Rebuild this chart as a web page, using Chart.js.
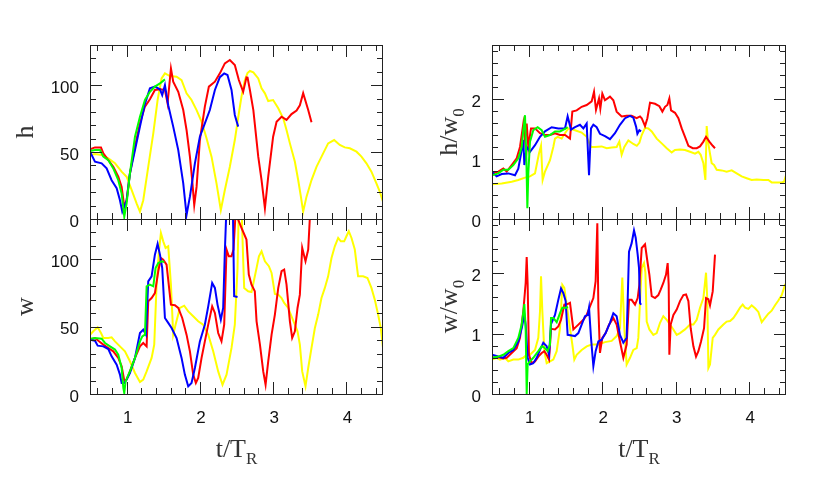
<!DOCTYPE html>
<html>
<head>
<meta charset="utf-8">
<script src="https://cdn.jsdelivr.net/npm/chart.js@4.4.0/dist/chart.umd.min.js"></script>
<style>
    html, body { margin: 0; padding: 0; background: #fff; }
    #figura { position: relative; width: 830px; height: 489px; }
    #figura canvas { position: absolute; left: 0; top: 0; }
</style>
</head>
<body>
<div id="figura">
    <canvas id="panel-h" width="830" height="489"></canvas>
    <canvas id="panel-w" width="830" height="489"></canvas>
    <canvas id="panel-hw" width="830" height="489"></canvas>
    <canvas id="panel-ww" width="830" height="489"></canvas>
</div>
<script>
// --- Datos: pares [t/T_R, valor] ---

// Ejes
const rangoT = [0.5, 4.5];
const etiquetasT = [1, 2, 3, 4];
const etiquetasAbs = [0, 50, 100];
const etiquetasRel = [0, 1, 2];

// Panel h
const hAmarillo = [[0.5,47.8],[0.568,48.6],[0.659,47.8],[0.75,45.3],[0.841,41.6],[0.932,35.4],[1.0,31.6],[1.068,21.7],[1.136,11.7],[1.182,5.5],[1.227,14],[1.295,39],[1.364,64],[1.423,88.9],[1.477,105],[1.523,108.8],[1.591,106.8],[1.682,106.3],[1.75,103.8],[1.818,93.9],[1.886,88.9],[1.955,81.4],[2.023,72.7],[2.091,60.3],[2.159,46.6],[2.227,26.6],[2.286,6.7],[2.341,21.7],[2.409,39],[2.477,59],[2.532,79],[2.568,91.4],[2.614,103.8],[2.65,109],[2.683,110.6],[2.73,109.6],[2.797,105],[2.842,97.6],[2.888,93.9],[2.933,88.1],[3.0,88.9],[3.07,82.7],[3.138,75.2],[3.183,66.5],[3.229,56.5],[3.297,42.8],[3.342,29.1],[3.379,16.7],[3.41,5.5],[3.456,16.7],[3.524,29.1],[3.592,39],[3.683,49],[3.751,56.5],[3.833,59],[3.91,55.3],[3.979,53.5],[4.047,52.8],[4.138,50.3],[4.206,46.6],[4.274,41.6],[4.342,35.4],[4.41,26.6],[4.456,20.4],[4.5,13]];
const hRojo = [[0.5,52],[0.568,53.5],[0.65,53.5],[0.682,49],[0.75,44],[0.818,39],[0.886,31.6],[0.932,24],[0.968,9.2],[1.0,14],[1.045,34],[1.114,54],[1.182,71.5],[1.25,84],[1.318,89.4],[1.386,96.4],[1.455,97],[1.523,96.4],[1.559,86.4],[1.605,112.5],[1.636,102.6],[1.705,95],[1.773,81.4],[1.818,66.5],[1.864,46.6],[1.895,29],[1.923,10.5],[1.955,24],[2.0,59],[2.068,84],[2.123,98.9],[2.205,102.6],[2.273,108.8],[2.341,116.3],[2.409,118.8],[2.477,115],[2.532,103.8],[2.591,95],[2.636,105.8],[2.651,105.6],[2.683,96.4],[2.73,81.4],[2.797,46.6],[2.842,29],[2.888,8],[2.933,31.6],[3.0,61.5],[3.047,72.7],[3.115,76.4],[3.183,74],[3.251,78.4],[3.32,81],[3.365,85],[3.41,94],[3.479,81.4],[3.524,72.2]];
const hAzul = [[0.5,50.3],[0.568,42.8],[0.659,41.6],[0.727,37.8],[0.795,29],[0.864,23],[0.909,14],[0.941,5.5],[1.0,14],[1.045,34],[1.114,51.5],[1.182,69],[1.25,86],[1.318,97.6],[1.386,98.9],[1.455,96.9],[1.486,92.6],[1.523,100],[1.568,85],[1.636,69],[1.705,51.5],[1.773,26.6],[1.818,3],[1.864,16.7],[1.932,41.6],[2.0,61.5],[2.068,71.5],[2.136,81.4],[2.205,96.4],[2.273,106],[2.332,108.8],[2.377,107.6],[2.432,96.4],[2.477,77.7],[2.523,69]];
const hVerde = [[0.5,50.8],[0.568,51.5],[0.636,51.5],[0.682,46.6],[0.75,44],[0.818,37.8],[0.886,29],[0.932,19],[0.968,1.7],[1.0,11.7],[1.045,34],[1.114,61.5],[1.182,76.4],[1.25,88.9],[1.318,95],[1.386,98.9],[1.455,101.3],[1.523,104.3]];

// Panel w
const wAmarillo = [[0.5,44],[0.545,46.6],[0.605,49.5],[0.65,45.3],[0.682,41.6],[0.75,41.6],[0.795,42.1],[0.841,39.1],[0.909,35.4],[0.977,31.7],[1.045,24.3],[1.114,15.6],[1.182,8.9],[1.227,10.7],[1.273,16.8],[1.341,26.8],[1.377,36.7],[1.409,81.2],[1.441,106],[1.468,119.6],[1.5,113.4],[1.532,108.5],[1.568,109.7],[1.605,81.2],[1.636,44.1],[1.668,51.5],[1.727,63.9],[1.786,65.6],[1.841,61.4],[1.909,57.7],[1.977,54],[2.045,51.5],[2.114,44.1],[2.182,31.7],[2.25,16.8],[2.309,6.9],[2.364,14.4],[2.432,34.2],[2.477,51.5],[2.514,93.6],[2.532,140],[2.568,140],[2.591,100],[2.605,78.8],[2.659,76.3],[2.705,75.8],[2.774,93.6],[2.806,102.3],[2.842,106],[2.888,98.6],[2.942,94.9],[2.979,89.9],[3.024,74.3],[3.07,73.8],[3.115,71.3],[3.151,67.6],[3.206,63.9],[3.251,57.7],[3.297,51.5],[3.333,46.6],[3.365,36.7],[3.397,16.8],[3.442,5.7],[3.479,19.3],[3.524,34.2],[3.57,49],[3.615,59],[3.66,71.3],[3.706,78.8],[3.751,87.4],[3.797,101],[3.842,109.7],[3.888,115.9],[3.924,113.4],[3.97,113.4],[4.001,117.2],[4.033,120.9],[4.07,115.9],[4.115,107.3],[4.16,87.4],[4.229,87.4],[4.288,86.2],[4.342,78.8],[4.388,70.1],[4.433,59],[4.47,49],[4.5,34.2]];
const wRojo = [[0.5,40.4],[0.568,41.6],[0.614,39.5],[0.682,36.7],[0.75,34.2],[0.818,31.7],[0.886,26.8],[0.932,20.6],[0.968,9.9],[1.0,10.7],[1.045,16.8],[1.114,26.8],[1.182,35.4],[1.227,37.9],[1.273,35.4],[1.295,68.9],[1.341,71.3],[1.386,75],[1.432,91.2],[1.468,101],[1.5,99.8],[1.545,96.1],[1.605,66.4],[1.659,65.9],[1.705,63.9],[1.759,56.5],[1.818,44.1],[1.864,31.7],[1.909,14.4],[1.945,8.2],[1.977,11.9],[2.023,26.8],[2.068,39.1],[2.114,51.5],[2.168,65.1],[2.205,60.2],[2.25,45.3],[2.295,39.1],[2.332,51.5],[2.364,107.3],[2.395,102.3],[2.432,102.3],[2.459,107.3],[2.486,133],[2.523,129.5],[2.568,123.4],[2.636,114.7],[2.668,88.7],[2.705,81.2],[2.75,76.3],[2.774,54],[2.82,36.7],[2.865,16.8],[2.897,6.9],[2.933,24.3],[2.979,44.1],[3.024,59],[3.07,78.8],[3.115,91.2],[3.151,92.4],[3.183,81.2],[3.229,54],[3.26,41.6],[3.297,46.6],[3.333,63.9],[3.365,73.8],[3.397,108.5],[3.442,98.6],[3.479,107.3],[3.51,140]];
const wAzul = [[0.5,40.4],[0.568,39.6],[0.605,35.9],[0.682,35.4],[0.75,33.4],[0.795,28],[0.864,21.8],[0.909,14.4],[0.932,8.2],[0.968,8.2],[1.0,10.7],[1.045,15.6],[1.114,26.8],[1.182,45.3],[1.227,47.8],[1.264,44],[1.295,83.7],[1.341,87.4],[1.386,103.5],[1.423,111.5],[1.455,103.5],[1.486,93.6],[1.523,56.5],[1.568,52.8],[1.614,49],[1.682,41.6],[1.75,26.8],[1.795,14.4],[1.841,5.7],[1.886,8.2],[1.932,19.3],[2.0,39.1],[2.068,51.5],[2.114,65.1],[2.168,82.5],[2.205,78.8],[2.241,66.4],[2.286,55.2],[2.318,63.9],[2.341,106],[2.364,140],[2.45,140],[2.468,72.6],[2.514,72.1]];
const wVerde = [[0.5,41.1],[0.568,41.6],[0.659,41.1],[0.705,37.9],[0.773,35.4],[0.841,33],[0.886,29.2],[0.932,19.3],[0.955,4.5],[0.968,0.7],[0.986,9.4],[1.045,16.8],[1.114,26.8],[1.182,39.1],[1.214,42.8],[1.25,44.1],[1.273,80],[1.318,81.2],[1.364,80],[1.395,93.6],[1.432,97.3],[1.477,98.6],[1.514,98.1]];

// Panel h/w0
const hwAmarillo = [[0.5,0.58],[0.632,0.59],[0.768,0.62],[0.858,0.65],[0.949,0.69],[1.017,0.71],[1.085,0.76],[1.139,1.09],[1.167,1.22],[1.189,0.65],[1.221,0.79],[1.289,0.98],[1.334,1.2],[1.357,1.34],[1.393,1.37],[1.448,1.34],[1.493,1.43],[1.539,1.51],[1.629,1.48],[1.72,1.44],[1.788,1.37],[1.847,1.2],[1.901,1.2],[1.992,1.21],[2.06,1.18],[2.128,1.19],[2.196,1.2],[2.232,1.29],[2.264,1.07],[2.3,1.2],[2.355,1.31],[2.423,1.25],[2.47,1.22],[2.505,1.27],[2.537,1.4],[2.582,1.52],[2.627,1.51],[2.673,1.46],[2.741,1.34],[2.809,1.26],[2.877,1.18],[2.945,1.11],[2.99,1.15],[3.058,1.16],[3.126,1.15],[3.194,1.12],[3.262,1.09],[3.308,1.12],[3.339,1.07],[3.376,0.93],[3.403,0.65],[3.421,1.55],[3.439,1.29],[3.466,1.09],[3.489,0.93],[3.521,0.9],[3.557,0.82],[3.625,0.81],[3.693,0.79],[3.761,0.81],[3.829,0.76],[3.897,0.71],[3.965,0.68],[4.033,0.65],[4.101,0.66],[4.192,0.65],[4.26,0.65],[4.305,0.61],[4.374,0.61],[4.442,0.61],[4.473,0.62],[4.5,0.73]];
const hwRojo = [[0.5,0.76],[0.586,0.79],[0.654,0.84],[0.7,0.79],[0.768,0.9],[0.836,1.01],[0.881,1.2],[0.926,1.59],[0.949,1.32],[0.972,1.59],[0.994,1.2],[1.031,1.51],[1.085,1.51],[1.153,1.43],[1.221,1.4],[1.289,1.4],[1.357,1.43],[1.425,1.4],[1.493,1.4],[1.561,1.34],[1.593,1.79],[1.652,1.81],[1.72,1.87],[1.788,1.9],[1.856,1.96],[1.888,2.12],[1.915,1.82],[1.956,2.01],[1.974,1.84],[2.001,2.09],[2.037,1.98],[2.105,2.04],[2.151,1.98],[2.196,1.79],[2.264,1.71],[2.332,1.72],[2.4,1.72],[2.468,1.68],[2.514,1.71],[2.537,1.68],[2.582,1.55],[2.614,1.68],[2.65,1.94],[2.718,1.92],[2.777,1.88],[2.818,1.79],[2.854,1.87],[2.886,1.9],[2.913,2.01],[2.936,1.81],[2.99,1.77],[3.036,1.68],[3.081,1.51],[3.126,1.37],[3.172,1.22],[3.231,1.18],[3.285,1.18],[3.33,1.21],[3.376,1.29],[3.412,1.37],[3.457,1.29],[3.503,1.22],[3.534,1.18]];
const hwAzul = [[0.5,0.79],[0.563,0.71],[0.632,0.75],[0.722,0.76],[0.813,0.73],[0.858,0.84],[0.904,1.15],[0.926,1.32],[0.94,0.9],[0.972,1.2],[1.017,1.12],[1.085,1.23],[1.153,1.37],[1.221,1.46],[1.312,1.53],[1.402,1.51],[1.493,1.51],[1.529,1.71],[1.575,1.49],[1.629,1.53],[1.697,1.57],[1.743,1.51],[1.788,1.59],[1.82,0.73],[1.847,1.51],[1.879,1.57],[1.924,1.53],[1.969,1.42],[2.037,1.38],[2.105,1.33],[2.173,1.43],[2.241,1.57],[2.31,1.68],[2.378,1.72],[2.423,1.69],[2.46,1.54],[2.478,1.42],[2.505,1.48],[2.528,1.46]];
const hwVerde = [[0.5,0.73],[0.586,0.76],[0.654,0.82],[0.722,0.82],[0.79,0.9],[0.858,1.01],[0.904,1.2],[0.926,1.48],[0.949,1.73],[0.967,1.04],[0.981,0.18],[0.994,0.76],[1.017,1.29],[1.062,1.48],[1.121,1.53],[1.176,1.48],[1.221,1.37],[1.289,1.4],[1.357,1.46],[1.425,1.46],[1.493,1.5],[1.529,1.53]];

// Panel w/w0
const wwAmarillo = [[0.5,0.57],[0.563,0.6],[0.609,0.57],[0.677,0.6],[0.722,0.54],[0.79,0.57],[0.858,0.57],[0.926,0.6],[0.972,0.65],[1.017,0.65],[1.085,0.73],[1.13,0.93],[1.153,1.37],[1.167,1.95],[1.185,1.37],[1.212,0.71],[1.244,0.51],[1.289,0.54],[1.334,0.57],[1.38,0.71],[1.425,1.09],[1.457,1.81],[1.484,1.76],[1.516,1.48],[1.561,1.09],[1.593,0.82],[1.62,0.57],[1.652,0.65],[1.72,0.73],[1.788,0.79],[1.856,0.82],[1.947,0.82],[2.037,0.86],[2.128,0.88],[2.196,0.96],[2.241,1.09],[2.273,1.93],[2.3,1.09],[2.332,0.49],[2.378,0.6],[2.423,0.73],[2.469,0.76],[2.491,0.93],[2.514,1.54],[2.537,2.09],[2.568,2.17],[2.587,2.01],[2.605,1.2],[2.641,1.07],[2.695,0.98],[2.741,1.01],[2.786,1.18],[2.831,1.29],[2.877,1.23],[2.922,1.15],[2.968,1.07],[3.013,0.98],[3.058,1.01],[3.126,1.07],[3.194,1.15],[3.24,1.15],[3.285,1.23],[3.33,1.43],[3.376,1.59],[3.412,2.01],[3.43,1.54],[3.444,0.43],[3.466,0.49],[3.503,0.93],[3.534,0.98],[3.58,1.07],[3.648,1.15],[3.693,1.2],[3.739,1.21],[3.784,1.26],[3.829,1.34],[3.875,1.43],[3.911,1.48],[3.943,1.43],[3.988,1.41],[4.033,1.47],[4.079,1.42],[4.124,1.36],[4.17,1.19],[4.215,1.26],[4.26,1.33],[4.305,1.38],[4.351,1.47],[4.396,1.55],[4.442,1.64],[4.487,1.81],[4.51,1.84]];
const wwRojo = [[0.5,0.6],[0.586,0.61],[0.654,0.59],[0.7,0.6],[0.768,0.68],[0.836,0.76],[0.881,0.93],[0.926,1.37],[0.958,1.84],[0.972,2.27],[0.985,1.82],[1.003,0.65],[1.04,0.51],[1.085,0.54],[1.13,0.62],[1.176,0.68],[1.212,0.71],[1.244,0.65],[1.276,0.57],[1.303,1.08],[1.357,1.07],[1.402,1.12],[1.439,1.23],[1.484,1.48],[1.529,1.49],[1.561,1.51],[1.607,1.07],[1.675,1.15],[1.743,1.23],[1.788,1.31],[1.833,1.45],[1.879,1.59],[1.91,1.87],[1.933,2.83],[1.947,1.43],[1.969,0.68],[2.001,0.93],[2.046,1.01],[2.092,1.15],[2.151,1.26],[2.196,1.15],[2.241,0.87],[2.287,0.6],[2.332,0.82],[2.364,1.56],[2.4,1.56],[2.446,1.48],[2.482,1.59],[2.505,1.81],[2.537,2.42],[2.582,2.48],[2.614,2.2],[2.641,1.98],[2.673,1.62],[2.718,1.59],[2.763,1.64],[2.795,1.73],[2.831,1.84],[2.868,1.98],[2.89,2.17],[2.904,1.81],[2.913,0.65],[2.931,1.15],[2.968,1.31],[3.013,1.4],[3.058,1.54],[3.104,1.64],[3.14,1.65],[3.172,1.54],[3.203,1.09],[3.24,0.79],[3.276,0.62],[3.308,0.71],[3.344,0.87],[3.385,1.09],[3.412,1.59],[3.444,1.57],[3.466,1.47],[3.503,1.7],[3.534,2.31]];
const wwAzul = [[0.5,0.65],[0.586,0.62],[0.654,0.6],[0.722,0.68],[0.79,0.73],[0.858,0.87],[0.904,1.09],[0.94,1.31],[0.958,1.15],[0.985,0.6],[1.017,0.49],[1.062,0.51],[1.108,0.6],[1.153,0.73],[1.198,0.85],[1.244,0.79],[1.276,0.65],[1.303,1.16],[1.357,1.31],[1.402,1.56],[1.439,1.75],[1.471,1.67],[1.502,1.54],[1.529,0.98],[1.584,0.97],[1.629,0.96],[1.675,1.01],[1.72,1.15],[1.765,1.29],[1.802,1.31],[1.82,1.43],[1.847,0.93],[1.879,0.46],[1.91,0.71],[1.947,0.87],[1.992,0.9],[2.046,1.01],[2.105,1.18],[2.151,1.34],[2.196,1.29],[2.241,0.98],[2.287,0.85],[2.332,0.93],[2.364,2.36],[2.4,2.5],[2.432,2.71],[2.455,2.59],[2.482,2.31],[2.5,2.09],[2.514,1.51],[2.528,1.48]];
const wwVerde = [[0.5,0.6],[0.586,0.62],[0.654,0.65],[0.722,0.71],[0.79,0.76],[0.858,0.93],[0.904,1.15],[0.94,1.49],[0.958,1.09],[0.972,0],[0.985,0.49],[1.017,0.54],[1.062,0.6],[1.13,0.71],[1.176,0.79],[1.212,0.77],[1.257,0.71],[1.289,0.82],[1.303,1.26],[1.334,1.26],[1.38,1.19],[1.425,1.34],[1.457,1.43],[1.516,1.43],[1.53,1.45]];

// Plugin: marco con marcas hacia dentro en los 4 lados, etiquetas y titulos
const marco = {
    id: 'marco',
    afterDraw(chart, args, o) {
        const { ctx, chartArea: a } = chart;
        const sx = chart.scales.x, sy = chart.scales.y;
        const pasos = (min, max, paso) => {
            const out = [];
            for (let k = Math.ceil(min / paso - 1e-9); k * paso <= max + 1e-9; k++) out.push(k * paso);
            return out;
        };
        const esMayor = (v, m) => Math.abs(v / m - Math.round(v / m)) < 1e-6;

        ctx.save();
        ctx.strokeStyle = '#222';
        ctx.lineWidth = 1;
        ctx.strokeRect(a.left + 0.5, a.top + 0.5, a.right - a.left - 1, a.bottom - a.top);

        ctx.beginPath();
        pasos(sx.min, sx.max, o.xMenor).forEach(v => {
            if (v <= sx.min + 1e-6 || v >= sx.max - 1e-6) return;
            const px = Math.round(sx.getPixelForValue(v)) + 0.5;
            const largo = esMayor(v, o.xMayor) ? 12 : 6;
            ctx.moveTo(px, a.bottom); ctx.lineTo(px, a.bottom - largo);
            ctx.moveTo(px, a.top); ctx.lineTo(px, a.top + largo);
        });
        pasos(sy.min, sy.max, o.yMenor).forEach(v => {
            if (v <= sy.min + 1e-6 || v >= sy.max - 1e-6) return;
            const py = Math.round(sy.getPixelForValue(v)) + 0.5;
            const largo = esMayor(v, o.yMayor) ? 12 : 6;
            ctx.moveTo(a.left, py); ctx.lineTo(a.left + largo, py);
            ctx.moveTo(a.right, py); ctx.lineTo(a.right - largo, py);
        });
        ctx.stroke();

        // Etiquetas numericas
        ctx.fillStyle = '#111';
        ctx.font = '17px "Liberation Sans", Arial, sans-serif';
        ctx.textAlign = 'right';
        ctx.textBaseline = 'middle';
        o.yEtiquetas.forEach(v => {
            ctx.fillText(String(v), a.left - 11, sy.getPixelForValue(v) + 3);
        });
        if (o.xEtiquetas) {
            ctx.textAlign = 'center';
            o.xEtiquetas.forEach(v => {
                ctx.fillText(String(v), sx.getPixelForValue(v) + 1, a.bottom + 24);
            });
        }

        // Titulos (con subindice)
        ctx.fillStyle = '#333';
        ctx.textBaseline = 'alphabetic';
        const escribir = (partes, cx, base, girar) => {
            ctx.save();
            ctx.translate(cx, base);
            if (girar) ctx.rotate(-Math.PI / 2);
            const fuente = sub => (sub ? '17px' : '26px') + ' "Liberation Serif", "Times New Roman", serif';
            let total = 0;
            partes.forEach(([t, sub]) => { ctx.font = fuente(sub); total += ctx.measureText(t).width; });
            let x = -total / 2;
            ctx.textAlign = 'left';
            partes.forEach(([t, sub]) => {
                ctx.font = fuente(sub);
                ctx.fillText(t, x, sub ? 7 : 0);
                x += ctx.measureText(t).width;
            });
            ctx.restore();
        };
        escribir(o.tituloY, o.tituloYBase, (a.top + a.bottom) / 2, true);
        if (o.tituloX) escribir(o.tituloX, (a.left + a.right) / 2, 457, false);
        ctx.restore();
    }
};

function serie(puntos, color) {
    return {
        data: puntos.map(([x, y]) => ({ x, y })),
        borderColor: color,
        borderWidth: 2,
        pointRadius: 0,
        fill: false,
        tension: 0
    };
}

function crearPanel(id, lineas, yMax, padding, opcionesMarco) {
    new Chart(document.getElementById(id), {
        type: 'line',
        data: {
            // el primer dataset se dibuja encima
            datasets: [
                serie(lineas[3], '#00ff00'),
                serie(lineas[2], '#0000ff'),
                serie(lineas[1], '#ff0000'),
                serie(lineas[0], '#ffff00')
            ]
        },
        options: {
            responsive: false,
            animation: false,
            events: [],
            layout: { padding: padding },
            scales: {
                x: { type: 'linear', min: rangoT[0], max: rangoT[1], display: false },
                y: { type: 'linear', min: 0, max: yMax, display: false }
            },
            plugins: {
                legend: { display: false },
                tooltip: { enabled: false },
                marco: opcionesMarco
            }
        },
        plugins: [marco]
    });
}

const tituloT = [['t/T', false], ['R', true]];

crearPanel('panel-h', [hAmarillo, hRojo, hAzul, hVerde], 130,
    { left: 90, top: 45, right: 447, bottom: 270 },
    { xMenor: 0.2, xMayor: 1, yMenor: 10, yMayor: 50, yEtiquetas: etiquetasAbs, xEtiquetas: null,
      tituloY: [['h', false]], tituloYBase: 33, tituloX: null });

crearPanel('panel-w', [wAmarillo, wRojo, wAzul, wVerde], 130,
    { left: 90, top: 219, right: 447, bottom: 95 },
    { xMenor: 0.2, xMayor: 1, yMenor: 10, yMayor: 50, yEtiquetas: etiquetasAbs, xEtiquetas: etiquetasT,
      tituloY: [['w', false]], tituloYBase: 33, tituloX: tituloT });

crearPanel('panel-hw', [hwAmarillo, hwRojo, hwAzul, hwVerde], 2.9,
    { left: 492, top: 45, right: 44, bottom: 270 },
    { xMenor: 0.2, xMayor: 1, yMenor: 0.2, yMayor: 1, yEtiquetas: etiquetasRel, xEtiquetas: null,
      tituloY: [['h/w', false], ['0', true]], tituloYBase: 457, tituloX: null });

crearPanel('panel-ww', [wwAmarillo, wwRojo, wwAzul, wwVerde], 2.9,
    { left: 492, top: 219, right: 44, bottom: 95 },
    { xMenor: 0.2, xMayor: 1, yMenor: 0.2, yMayor: 1, yEtiquetas: etiquetasRel, xEtiquetas: etiquetasT,
      tituloY: [['w/w', false], ['0', true]], tituloYBase: 457, tituloX: tituloT });
</script>
</body>
</html>
